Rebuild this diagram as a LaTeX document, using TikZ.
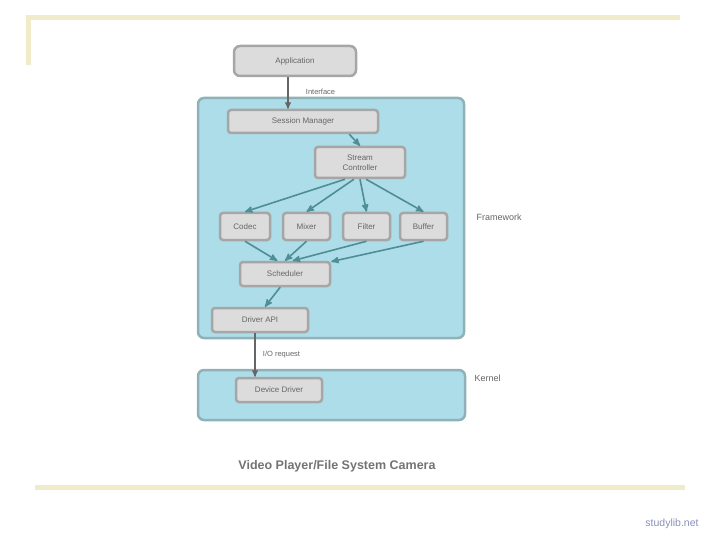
\documentclass[tikz,border=0pt]{standalone}
\usepackage{fontspec}
\setmainfont{Liberation Sans}
\usepackage{tikz}
\usetikzlibrary{shapes, arrows, positioning}
\definecolor{paneblue}{HTML}{ADDDE8}
\definecolor{paneedge}{HTML}{8EB2B8}
\definecolor{boxfill}{HTML}{DCDCDC}
\definecolor{boxedge}{HTML}{A6A6A6}
\definecolor{linkcol}{HTML}{4F8D97}
\definecolor{rulecol}{HTML}{EFEBCB}
\definecolor{markcol}{HTML}{8A8FB8}

\begin{document}
\begin{tikzpicture}[x=1pt, y=-1pt, >=stealth', semithick,
    box/.style={rectangle, draw=boxedge, fill=boxfill, line width=2.5pt, rounded corners=3pt,
        text=black!60, font=\fontsize{8}{9.5}\selectfont, inner sep=1pt, align=center},
    pane/.style={draw=paneedge, fill=paneblue, line width=2.5pt, rounded corners=6pt},
    link/.style={->, draw=linkcol, line width=1.6pt},
    plain link/.style={->, draw=black!60, line width=1.3pt},
    tag/.style={text=black!60, font=\fontsize{7.5}{9}\selectfont}]
    \useasboundingbox (0,0) rectangle (720,540);
    % frame rules
    \draw [rulecol, line width=5pt] (28,65) -- (28,18) -- (680,18);
    \draw [rulecol, line width=5pt] (35,487) -- (685,487);
    % panes
    \draw [pane] (198,98) rectangle (464,338);
    \draw [pane] (198,370) rectangle (465,420);
    % nodes
    \node [box, minimum width=122pt, minimum height=30pt, rounded corners=6pt] (app) at (295,61) {Application};
    \node [box, minimum width=150pt, minimum height=23pt] (session) at (303,121.5) {Session Manager};
    \node [box, minimum width=90pt, minimum height=31pt] (stream) at (360,162.5) {Stream\\Controller};
    \node [box, minimum width=50pt, minimum height=27pt] (codec) at (245,226.5) {Codec};
    \node [box, minimum width=47pt, minimum height=27pt] (mixer) at (306.5,226.5) {Mixer};
    \node [box, minimum width=47pt, minimum height=27pt] (filter) at (366.5,226.5) {Filter};
    \node [box, minimum width=47pt, minimum height=27pt] (buffer) at (423.5,226.5) {Buffer};
    \node [box, minimum width=90pt, minimum height=24pt] (sched) at (285,274) {Scheduler};
    \node [box, minimum width=96pt, minimum height=24pt] (api) at (260,320) {Driver API};
    \node [box, minimum width=86pt, minimum height=24pt] (driver) at (279,390) {Device Driver};
    % side labels
    \node [tag, anchor=west, font=\fontsize{9}{11}\selectfont] (fw) at (473,217) {Framework};
    \node [tag, anchor=west, font=\fontsize{9}{11}\selectfont] (kern) at (471,378) {Kernel};
    % connectors
    \path [plain link] (app.south -| 288,0) -- (session.north -| 288,0) node [tag, pos=0.45, right=14pt] {Interface};
    \path [link] (session.south east) ++(-30,0) -- (stream.north);
    \path [link] (stream.south) ++(-15,0) -- (codec.north);
    \path [link] (stream.250) -- (mixer.north);
    \path [link] (stream.south) -- (filter.north);
    \path [link] (stream.290) -- (buffer.north);
    \path [link] (codec.south) -- (sched.120);
    \path [link] (mixer.south) -- (sched.north);
    \path [link] (filter.south) -- (sched.60);
    \path [link] (buffer.south) -- (sched.15);
    \path [link] (sched.250) -- (api.north -| 265,0);
    \path [plain link] (api.south -| 255,0) -- (driver.north -| 255,0) node [tag, midway, right=4pt] {I/O request};
    % caption and mark
    \node [font=\fontsize{12.5}{14}\selectfont\bfseries, text=black!55] (caption) at (337,466) {Video Player/File System Camera};
    \node [font=\fontsize{10.5}{12}\selectfont, text=markcol] (mark) at (672,524) {studylib.net};
\end{tikzpicture}
\end{document}
